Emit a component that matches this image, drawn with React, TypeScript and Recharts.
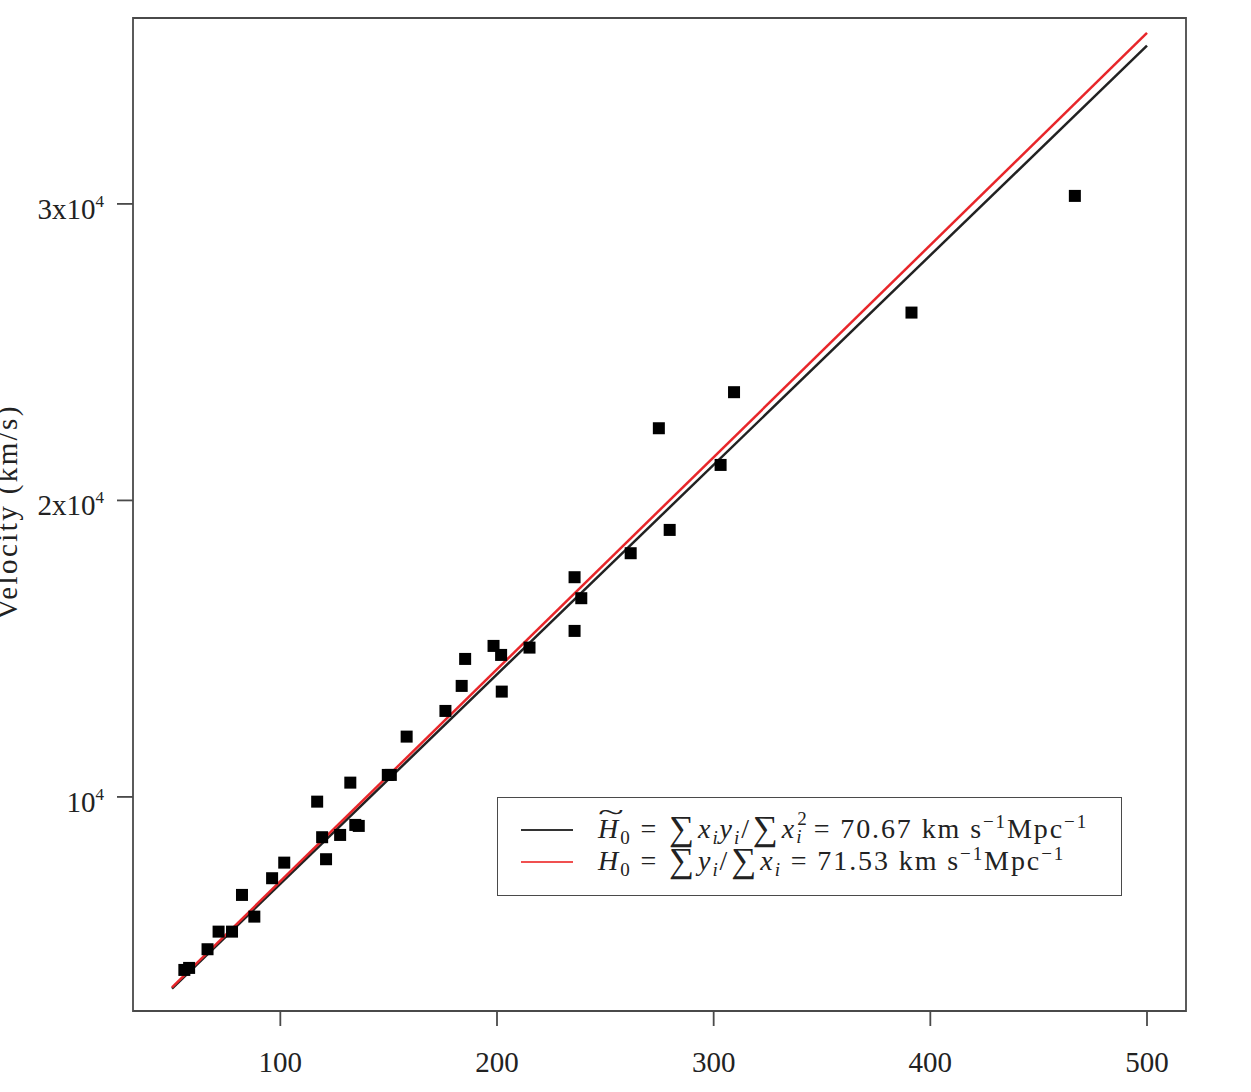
import React from 'react'
import { ScatterChart, Scatter, XAxis, YAxis, ReferenceArea } from 'recharts'

// distance (Mpc) and recession velocity (km/s)
const distances = [
  55.7, 57.9, 66.4, 71.5, 77.7, 82.3, 88.0, 96.2, 101.8, 117.0, 119.3, 121.1, 127.6, 132.3,
  134.6, 136.2, 149.6, 151.0, 158.3, 176.2, 183.7, 185.3, 198.4, 201.9, 202.2, 215.0, 235.8,
  238.9, 235.8, 261.7, 274.7, 279.7, 303.2, 309.4, 391.3, 466.7,
]
const velocities = [
  4165, 4233, 4863, 5457, 5457, 6695, 5963, 7258, 7784, 9841, 8641, 7899, 8718, 10482,
  9056, 9022, 10742, 10742, 12034, 12900, 13744, 14654, 15093, 14789, 13552, 15036, 17410,
  16702, 15599, 18219, 22434, 19005, 21197, 23650, 26335, 30270,
]

const fitRange = [50, 500]
const H0_tilde = 70.67
const H0 = 71.53

const xTicks = [100, 200, 300, 400, 500]
const yTicks = [10000, 20000, 30000]
const xDomain = [32, 518]
const yDomain = [2780, 36270]

const points = distances.map((x, i) => ({ x, y: velocities[i] }))
const tildeLine = fitRange.map((x) => ({ x, y: H0_tilde * x }))
const meanLine = fitRange.map((x) => ({ x, y: H0 * x }))

const FONT = '"Liberation Serif", "DejaVu Serif", serif'
const AXIS = '#4a4a4a'

const Square = (props: any) => {
  const { cx, cy } = props
  return <rect x={cx - 6} y={cy - 6} width={12} height={12} fill="#000" />
}
const NoDot = () => <g />

const YTick = (props: any) => {
  const { x, y, payload } = props
  const mult = payload.value / 10000
  return (
    <text x={x} y={y} dy={15} textAnchor="end" fontFamily={FONT} fontSize={29} fill="#222">
      <tspan>{mult === 1 ? '10' : `${mult}x10`}</tspan>
      <tspan dy={-12} fontSize={17}>4</tspan>
    </text>
  )
}

const YLabel = () => (
  <text
    x={17}
    y={512}
    transform="rotate(-90 17 512)"
    textAnchor="middle"
    fontFamily={FONT}
    fontSize={29}
    letterSpacing={2.4}
    fill="#222"
  >
    Velocity (km/s)
  </text>
)

const Sub = ({ children, it }: { children: React.ReactNode; it?: boolean }) => (
  <span style={{ fontSize: '0.68em', verticalAlign: '-0.3em', fontStyle: it ? 'italic' : 'normal' }}>{children}</span>
)
const Sup = ({ children }: { children: React.ReactNode }) => (
  <span style={{ fontSize: '0.68em', verticalAlign: '0.5em' }}>{children}</span>
)
const Sum = () => <span style={{ fontSize: '1.25em', margin: '0 0.06em', verticalAlign: '-0.06em' }}>∑</span>

const LegendBox = () => {
  const row = (color: string, content: React.ReactNode) => (
    <div style={{ display: 'flex', alignItems: 'center', height: 32 }}>
      <div style={{ width: 52, borderTop: `2px solid ${color}`, marginLeft: 23, marginRight: 25, flexShrink: 0 }} />
      <div style={{ whiteSpace: 'nowrap', letterSpacing: 1.9 }}>{content}</div>
    </div>
  )
  return (
    <div
      style={{
        position: 'absolute',
        left: 497,
        top: 797,
        width: 625,
        height: 99,
        border: `1.6px solid ${AXIS}`,
        background: '#fff',
        boxSizing: 'border-box',
        paddingTop: 16,
        fontFamily: FONT,
        fontSize: 28,
        color: '#222',
        lineHeight: '32px',
      }}
    >
      {row(
        '#333',
        <span>
          <span style={{ position: 'relative', display: 'inline-block' }}>
            <i>H</i>
            <span style={{ position: 'absolute', left: '0.2em', top: '-0.6em', transform: 'scaleX(1.7)' }}>~</span>
          </span>
          <Sub>0</Sub> = <Sum />
          <i>x</i>
          <Sub it>i</Sub>
          <i>y</i>
          <Sub it>i</Sub>/<Sum />
          <i>x</i>
          <span style={{ position: 'relative', display: 'inline-block', width: '0.45em', fontSize: '0.68em' }}>
            <span style={{ position: 'absolute', left: '0.05em', top: '-0.7em' }}>2</span>
            <i style={{ position: 'absolute', left: 0, top: '0.25em' }}>i</i>
            &nbsp;
          </span>{' '}
          = {H0_tilde.toFixed(2)} km s<Sup>−1</Sup>Mpc<Sup>−1</Sup>
        </span>,
      )}
      {row(
        '#f05050',
        <span>
          <i>H</i>
          <Sub>0</Sub> = <Sum />
          <i>y</i>
          <Sub it>i</Sub>/<Sum />
          <i>x</i>
          <Sub it>i</Sub> = {H0.toFixed(2)} km s<Sup>−1</Sup>Mpc<Sup>−1</Sup>
        </span>,
      )}
    </div>
  )
}

export default function App() {
  return (
    <div style={{ position: 'absolute', left: 0, top: 0, width: 1251, height: 1092, background: '#fff' }}>
      <ScatterChart width={1251} height={1092} margin={{ top: 18, right: 65, bottom: 0, left: 0 }}>
        <XAxis
          dataKey="x"
          type="number"
          domain={xDomain}
          ticks={xTicks}
          allowDataOverflow
          axisLine={false}
          tickLine={{ stroke: AXIS, strokeWidth: 1.8 }}
          tickSize={15}
          tickMargin={25}
          height={81}
          tick={{ fontFamily: FONT, fontSize: 29, fill: '#222' }}
        />
        <YAxis
          dataKey="y"
          type="number"
          domain={yDomain}
          ticks={yTicks}
          allowDataOverflow
          axisLine={false}
          tickLine={{ stroke: AXIS, strokeWidth: 1.8 }}
          tickSize={16}
          tickMargin={13}
          width={133}
          tick={<YTick />}
          label={<YLabel />}
        />
        <ReferenceArea
          x1={xDomain[0]}
          x2={xDomain[1]}
          y1={yDomain[0]}
          y2={yDomain[1]}
          fill="none"
          fillOpacity={0}
          stroke={AXIS}
          strokeWidth={1.8}
        />
        <Scatter
          data={tildeLine}
          line={{ stroke: '#222', strokeWidth: 2.5 }}
          shape={<NoDot />}
          isAnimationActive={false}
        />
        <Scatter
          data={meanLine}
          line={{ stroke: '#e8262a', strokeWidth: 2.5 }}
          shape={<NoDot />}
          isAnimationActive={false}
        />
        <Scatter data={points} shape={<Square />} isAnimationActive={false} />
      </ScatterChart>
      <LegendBox />
    </div>
  )
}
